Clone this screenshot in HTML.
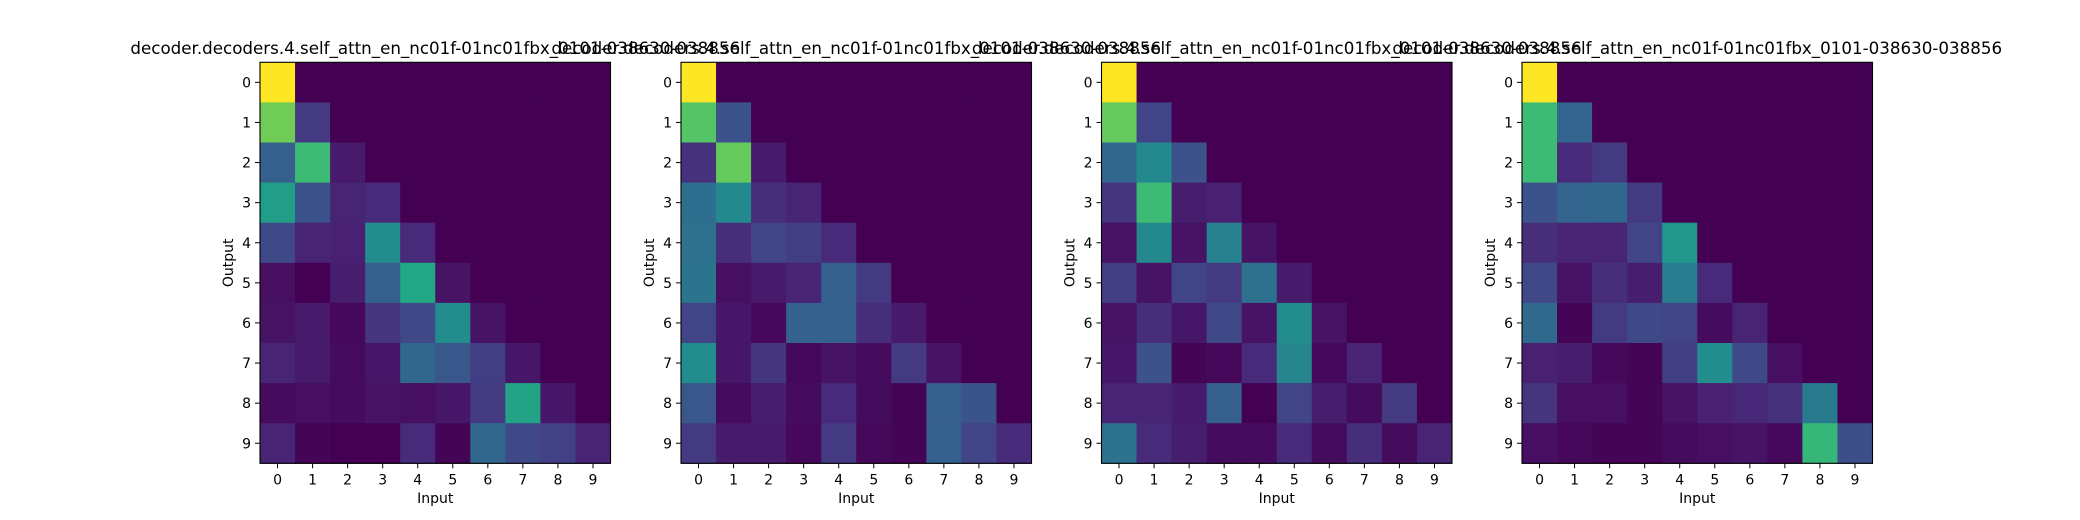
<!DOCTYPE html>
<html><head><meta charset="utf-8">
<style>
html,body{margin:0;padding:0;background:#fff;}
svg{display:block;font-family:"DejaVu Sans","Liberation Sans",sans-serif;}
</style></head>
<body>
<svg id="fig" width="2080" height="520" viewBox="0 0 2080 520" xmlns="http://www.w3.org/2000/svg"></svg>
<script>
const titles = [
 "decoder.decoders.4.self_attn_en_nc01f-01nc01fbx_0101-038630-038856",
 "decoder.decoders.4.self_attn_en_nc01f-01nc01fbx_0101-038630-038856",
 "decoder.decoders.4.self_attn_en_nc01f-01nc01fbx_0101-038630-038856",
 "decoder.decoders.4.self_attn_en_nc01f-01nc01fbx_0101-038630-038856"
];
const tickLabels = ["0","1","2","3","4","5","6","7","8","9"];
const heat1 = [
 [1,0,0,0,0,0,0,0,0,0],
 [0.78,0.17,0,0,0,0,0,0,0,0],
 [0.3,0.68,0.07,0,0,0,0,0,0,0],
 [0.55,0.25,0.1,0.12,0,0,0,0,0,0],
 [0.22,0.1,0.09,0.48,0.12,0,0,0,0,0],
 [0.04,0,0.08,0.3,0.6,0.05,0,0,0,0],
 [0.05,0.07,0.02,0.15,0.22,0.48,0.05,0,0,0],
 [0.1,0.07,0.03,0.06,0.33,0.27,0.18,0.06,0,0],
 [0.03,0.04,0.03,0.05,0.04,0.06,0.17,0.58,0.06,0],
 [0.1,0.01,0,0,0.12,0.01,0.33,0.22,0.19,0.1]
];
const heat2 = [
 [1,0,0,0,0,0,0,0,0,0],
 [0.73,0.25,0,0,0,0,0,0,0,0],
 [0.14,0.76,0.07,0,0,0,0,0,0,0],
 [0.36,0.47,0.13,0.1,0,0,0,0,0,0],
 [0.37,0.13,0.2,0.18,0.12,0,0,0,0,0],
 [0.38,0.04,0.07,0.1,0.3,0.17,0,0,0,0],
 [0.2,0.06,0.02,0.31,0.3,0.13,0.07,0,0,0],
 [0.48,0.06,0.16,0.02,0.05,0.03,0.17,0.05,0,0],
 [0.27,0.03,0.08,0.03,0.12,0.03,0.01,0.3,0.26,0],
 [0.17,0.07,0.07,0.02,0.17,0.02,0.01,0.3,0.2,0.12]
];
const heat3 = [
 [1,0,0,0,0,0,0,0,0,0],
 [0.76,0.2,0,0,0,0,0,0,0,0],
 [0.33,0.47,0.25,0,0,0,0,0,0,0],
 [0.15,0.68,0.08,0.09,0,0,0,0,0,0],
 [0.05,0.47,0.05,0.43,0.05,0,0,0,0,0],
 [0.18,0.05,0.2,0.17,0.37,0.07,0,0,0,0],
 [0.05,0.13,0.06,0.22,0.05,0.48,0.05,0,0,0],
 [0.06,0.25,0.01,0.02,0.12,0.45,0.02,0.1,0,0],
 [0.1,0.1,0.07,0.3,0,0.2,0.08,0.03,0.17,0],
 [0.38,0.12,0.08,0.03,0.03,0.12,0.03,0.13,0.03,0.1]
];
const heat4 = [
 [1,0,0,0,0,0,0,0,0,0],
 [0.68,0.32,0,0,0,0,0,0,0,0],
 [0.68,0.12,0.17,0,0,0,0,0,0,0],
 [0.25,0.32,0.33,0.17,0,0,0,0,0,0],
 [0.13,0.1,0.1,0.2,0.52,0,0,0,0,0],
 [0.22,0.05,0.13,0.08,0.42,0.12,0,0,0,0],
 [0.34,0.01,0.17,0.22,0.2,0.03,0.1,0,0,0],
 [0.09,0.08,0.02,0.01,0.18,0.48,0.22,0.04,0,0],
 [0.15,0.04,0.04,0.01,0.05,0.09,0.11,0.14,0.41,0],
 [0.04,0.02,0.01,0.01,0.03,0.04,0.05,0.02,0.66,0.24]
];
const heats = [heat1, heat2, heat3, heat4];

const VIR = ["#440154","#482475","#414487","#355f8d","#2a788e","#21918c","#22a884","#44bf70","#7ad151","#bddf26","#fde725"];
function hex(h){return [parseInt(h.substr(1,2),16),parseInt(h.substr(3,2),16),parseInt(h.substr(5,2),16)];}
function viridis(v){
  v=Math.max(0,Math.min(1,v)); const t=v*10; const i=Math.min(9,Math.floor(t)); const f=t-i;
  const a=hex(VIR[i]), b=hex(VIR[i+1]);
  return "rgb("+a.map((c,k)=>Math.round(c+(b[k]-c)*f)).join(",")+")";
}
const NS="http://www.w3.org/2000/svg";
const svg=document.getElementById("fig");
function mk(tag, attrs, parent){const e=document.createElementNS(NS,tag);for(const k in attrs)e.setAttribute(k,attrs[k]);(parent||svg).appendChild(e);return e;}

const panelLefts=[260,681,1101.5,1522];
const top0=62.3, W=350.5, H=401;
heats.forEach((data,p)=>{
  const L=panelLefts[p];
  const n=data.length, m=data[0].length;
  const cw=W/m, ch=H/n;
  const xPos=j=>L+j*cw, yPos=i=>top0+i*ch;
  const g=mk("g",{});
  
  
  data.forEach((row,i)=>row.forEach((v,j)=>{
    const r=mk("rect",{x:xPos(j),y:yPos(i),width:cw+0.5,height:ch+0.5,fill:viridis(v)},g);
    
    
  }));
  const fr=mk("rect",{x:L,y:top0,width:W,height:H,fill:"none",stroke:"#000","stroke-width":1.1},g);
  
  
  tickLabels.forEach((lab,k)=>{
    const cx=xPos(k)+cw/2;
    mk("line",{x1:cx,y1:top0+H,x2:cx,y2:top0+H+5,stroke:"#000","stroke-width":1},g);
    const tx=mk("text",{x:cx,y:top0+H+21,"font-size":14,"text-anchor":"middle",fill:"#000"},g);
    tx.textContent=lab;
    
    
    const cy=yPos(k)+ch/2;
    mk("line",{x1:L-5,y1:cy,x2:L,y2:cy,stroke:"#000","stroke-width":1},g);
    const ty=mk("text",{x:L-9,y:cy+5,"font-size":14,"text-anchor":"end",fill:"#000"},g);
    ty.textContent=lab;
    
    
  });
  const xl=mk("text",{x:L+W/2,y:503,"font-size":14,"text-anchor":"middle",fill:"#000"},g);
  xl.textContent="Input";
  
  
  const yl=mk("text",{x:0,y:0,"font-size":14,"text-anchor":"middle",fill:"#000",transform:"translate("+(L-27)+","+(top0+H/2)+") rotate(-90)"},g);
  yl.textContent="Output";
  
  
  const tt=mk("text",{x:L+W/2,y:54,"font-size":16.7,"text-anchor":"middle",fill:"#000"},g);
  tt.textContent=titles[p];
  
  
});
</script>
</body></html>
